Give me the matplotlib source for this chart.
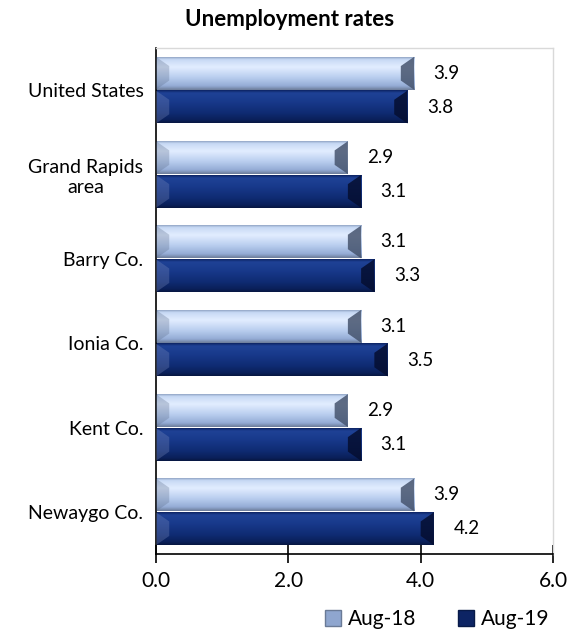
import numpy as np
import matplotlib
matplotlib.use('Agg')
import matplotlib.pyplot as plt
from matplotlib.colors import LinearSegmentedColormap
from matplotlib.patches import Polygon, Patch

# data
categories = ['United States', 'Grand Rapids\narea', 'Barry Co.', 'Ionia Co.', 'Kent Co.', 'Newaygo Co.']
aug18 = [3.9, 2.9, 3.1, 3.1, 2.9, 3.9]
aug19 = [3.8, 3.1, 3.3, 3.5, 3.1, 4.2]
series_names = ['Aug-18', 'Aug-19']
x_ticks = [0, 2, 4, 6]

plt.rcParams['font.family'] = ['Lato', 'DejaVu Sans']

# vertical shading of the bevelled bars (top -> bottom)
light_cmap = LinearSegmentedColormap.from_list('light', [
    (0.0, '#8ea2c2'), (0.06, '#c6d8f4'), (0.3, '#e2edff'),
    (0.6, '#bcd0f0'), (0.88, '#94acd6'), (1.0, '#6c7c98')])
dark_cmap = LinearSegmentedColormap.from_list('dark', [
    (0.0, '#0c2260'), (0.08, '#1f4296'), (0.35, '#18398b'),
    (0.7, '#0f2b72'), (0.92, '#0a1f58'), (1.0, '#071640')])


def bevel(ax, bar, cmap, right_col, left_col):
    x0, y0 = bar.get_x(), bar.get_y()
    w, h = bar.get_width(), bar.get_height()
    x1, y1 = x0 + w, y0 + h
    grad = np.linspace(0, 1, 120).reshape(-1, 1)
    ax.imshow(grad, cmap=cmap, extent=(x0, x1, y0, y1), origin='lower',
              aspect='auto', interpolation='bicubic', zorder=2)
    bx = 0.2
    by = h * 0.28
    ax.add_patch(Polygon([(x1 - bx, y0 + by), (x1, y0), (x1, y1), (x1 - bx, y1 - by)],
                         closed=True, facecolor=right_col, edgecolor='none',
                         alpha=0.85, zorder=3))
    ax.add_patch(Polygon([(x0, y0), (x0 + bx, y0 + by), (x0 + bx, y1 - by), (x0, y1)],
                         closed=True, facecolor=left_col, edgecolor='none',
                         alpha=0.3, zorder=3))


fig = plt.figure(figsize=(5.69, 6.32), dpi=100)
ax = fig.add_axes([156 / 569, 1 - 554 / 632, (553 - 156) / 569, (554 - 48) / 632])

y = np.arange(len(categories))
h = 0.39
bars18 = ax.barh(y - 0.2, aug18, height=h, color='none', edgecolor='none')
bars19 = ax.barh(y + 0.2, aug19, height=h, color='none', edgecolor='none')

for b in bars18:
    bevel(ax, b, light_cmap, '#46546e', '#5a6a88')
for b in bars19:
    bevel(ax, b, dark_cmap, '#050e30', '#8090c0')

for yy, v in zip(y - 0.2, aug18):
    ax.annotate(f'{v:.1f}', xy=(v, yy), xytext=(14, 0), textcoords='offset points',
                va='center', ha='left', fontsize=13.5)
for yy, v in zip(y + 0.2, aug19):
    ax.annotate(f'{v:.1f}', xy=(v, yy), xytext=(14, 0), textcoords='offset points',
                va='center', ha='left', fontsize=13.5)

ax.set_xlim(0, 6)
ax.set_ylim(len(categories) - 0.5, -0.5)
ax.set_xticks(x_ticks)
ax.set_xticklabels([f'{t:.1f}' for t in x_ticks])
ax.set_yticks(y)
ax.set_yticklabels(categories)
for lbl in ax.get_yticklabels():
    lbl.set_multialignment('center')

ax.tick_params(axis='x', direction='inout', length=13, width=1.2, pad=6, labelsize=15)
ax.tick_params(axis='y', length=0, pad=9, labelsize=14)

for side in ['left', 'bottom']:
    ax.spines[side].set_color('black')
    ax.spines[side].set_linewidth(1.2)
for side in ['top', 'right']:
    ax.spines[side].set_color('#d9d9d9')
    ax.spines[side].set_linewidth(1)

fig.text(290 / 569, 1 - 20 / 632, 'Unemployment rates', ha='center', va='center',
         fontweight='bold', fontsize=16)

handles = [Patch(facecolor='#8fa6cf', edgecolor='#6a7a96'),
           Patch(facecolor='#0d2464', edgecolor='#081a48')]
fig.legend(handles, series_names, loc='center', bbox_to_anchor=(437 / 569, 1 - 619 / 632),
           ncol=2, frameon=False, fontsize=15, handlelength=0.8, handleheight=0.8,
           handletextpad=0.3, columnspacing=2.0)

fig.savefig('out.png', dpi=100)
